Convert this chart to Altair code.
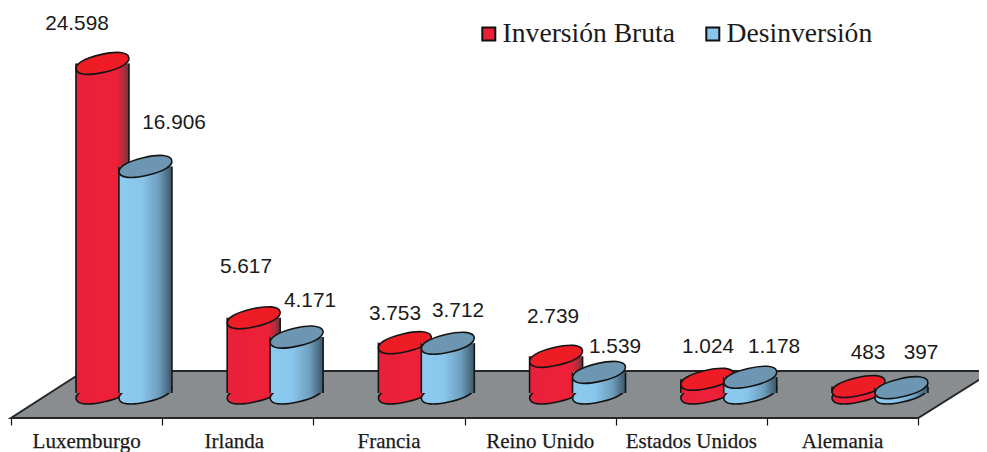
import math
import altair as alt
import pandas as pd

categories = ["Luxemburgo", "Irlanda", "Francia", "Reino Unido", "Estados Unidos", "Alemania"]
inversion_bruta = [24598, 5617, 3753, 2739, 1024, 483]
desinversion = [16906, 4171, 3712, 1539, 1178, 397]
series_names = ["Inversión Bruta", "Desinversión"]
ticks = [0, 1, 2, 3, 4, 5, 6]

# styling: drawing parameters
PX = 151.2                 # px per category
CYL_W = 53
CENTER = {series_names[0]: 0.605, series_names[1]: 0.889}
HALF = 26.5 / PX
LABEL_OFFSETS = {
    series_names[0]: [(-25.5, -33.4), (-7.7, -44.7), (-9.9, -22.7), (-3.1, -33.3), (0.7, -26.3), (9.5, -27.5)],
    series_names[1]: [(28.6, -37.5), (13.4, -30.1), (10.2, -26.3), (16, -19.4), (23.8, -24.2), (19.6, -28.7)],
}
CAT_NUDGE = [0, -3.5, 0, 0, 0, 0]
X_SCALE = alt.Scale(domain=[-0.0198, 6.4020], nice=False, zero=False)
Y_SCALE = alt.Scale(domain=[-1866, 28731], nice=False, zero=False)
X_AXIS = alt.Axis(values=ticks, labels=False, domain=False, grid=False, title=None,
                  tickSize=7, tickColor="#111111", tickWidth=1.2)
INK = "#141414"


def ellipse_path(a=1.02, b=0.34, k=0.62, deg=13):
    c, s = math.cos(math.radians(deg)), math.sin(math.radians(deg))
    rot = lambda x, y: f"{x * c + y * s:.3f},{-x * s + y * c:.3f}"
    return (
        f"M{rot(-a, 0)}"
        f"C{rot(-a, -k * b)} {rot(-k * a, -b)} {rot(0, -b)}"
        f"C{rot(k * a, -b)} {rot(a, -k * b)} {rot(a, 0)}"
        f"C{rot(a, k * b)} {rot(k * a, b)} {rot(0, b)}"
        f"C{rot(-k * a, b)} {rot(-a, k * b)} {rot(-a, 0)}Z"
    )


ELLIPSE = ellipse_path()


def grad(stops):
    return alt.LinearGradient(
        gradient="linear", x1=0, x2=1, y1=0, y2=0,
        stops=[alt.GradientStop(offset=o, color=c) for o, c in stops],
    )


GRADS = {
    series_names[0]: grad([(0, "#e8203a"), (0.76, "#ee2038"), (0.9, "#b42c3c"), (1, "#5e3a40")]),
    series_names[1]: grad([(0, "#8ccaf0"), (0.42, "#8ac6ec"), (0.75, "#6e9ebe"), (1, "#3c5668")]),
}
TOPS = {series_names[0]: "#ee1c24", series_names[1]: "#6c96b2"}

rows = []
for name, vals in zip(series_names, [inversion_bruta, desinversion]):
    for i, (c, v) in enumerate(zip(categories, vals)):
        pos = i + CENTER[name]
        rows.append(dict(cat=c, series=name, value=v, zero=0, pos=pos,
                         left=pos - HALF, right=pos + HALF,
                         label=f"{v:,}".replace(",", "."), idx=i))
df = pd.DataFrame(rows)

X = lambda f: alt.X(f, type="quantitative", scale=X_SCALE, axis=X_AXIS)
Y = lambda f: alt.Y(f, type="quantitative", scale=Y_SCALE, axis=None)

floor = pd.DataFrame({"y": [-1866, 1642], "x": [0, 0.483], "x2": [6, 6.495]})
floor_layer = alt.Chart(floor).mark_area(
    orient="horizontal", fill="#8a8d8f", stroke="#262626", strokeWidth=2
).encode(y=Y("y"), x=X("x"), x2="x2")

layers = [floor_layer]
for name in series_names:
    d = df[df.series == name]
    ch = alt.Chart(d)
    layers += [
        ch.mark_point(shape=ELLIPSE, size=CYL_W ** 2, filled=True, opacity=1,
                      fill=GRADS[name], stroke=INK, strokeWidth=1.6).encode(x=X("pos"), y=Y("zero")),
        ch.mark_rect(fill=GRADS[name]).encode(x=X("left"), x2="right", y=Y("value"), y2="zero"),
        ch.mark_rule(color=INK, strokeWidth=1.6).encode(x=X("left"), y=Y("value"), y2="zero"),
        ch.mark_rule(color=INK, strokeWidth=1.6).encode(x=X("right"), y=Y("value"), y2="zero"),
        ch.mark_point(shape=ELLIPSE, size=CYL_W ** 2, filled=True, opacity=1,
                      fill=TOPS[name], stroke=INK, strokeWidth=1.6).encode(x=X("pos"), y=Y("value")),
    ]
    for (_, r), (dx, dy) in zip(d.iterrows(), LABEL_OFFSETS[name]):
        layers.append(
            alt.Chart(pd.DataFrame([r.to_dict()])).mark_text(
                font="Liberation Sans", fontSize=20.8, color="#1a1a1a",
                baseline="alphabetic", align="center", dx=dx, dy=dy,
            ).encode(x=X("pos"), y=Y("value"), text="label:N")
        )

for i, cat in enumerate(categories):
    layers.append(
        alt.Chart(pd.DataFrame({"cat": [cat], "mid": [i + 0.5]})).mark_text(
            font="Liberation Serif", fontSize=21, color="#1a1a1a", baseline="alphabetic", align="center",
            stroke="#1a1a1a", strokeWidth=0.25, dx=CAT_NUDGE[i],
        ).encode(x=X("mid"), y=alt.value(440), text="cat:N")
    )

legend_layer = alt.Chart(pd.DataFrame({"s": series_names})).mark_point(
    shape="square", filled=True, opacity=0, size=0
).encode(
    x=alt.value(-50), y=alt.value(-50),
    color=alt.Color("s:N", sort=series_names,
                    scale=alt.Scale(domain=series_names, range=["#ee2038", "#8ac6ec"]),
                    legend=alt.Legend(
                        orient="none", legendX=467, legendY=12, direction="horizontal", columns=2,
                        title=None, symbolType="square", symbolSize=169, symbolStrokeColor="#111111",
                        symbolStrokeWidth=2, symbolOpacity=1,
                        labelFont="Liberation Serif", labelFontSize=27.6, labelColor="#1a1a1a",
                        labelLimit=300, columnPadding=23, labelOffset=0,
                    )),
)
layers.append(legend_layer)

chart = alt.layer(*layers).properties(
    width=971, height=410,
    padding={"left": 0, "top": 0, "right": 0, "bottom": 34},
    autosize=alt.AutoSizeParams(type="none", contains="content"),
    background="white",
).configure_view(stroke=None).resolve_scale(x="shared", y="shared")

chart.save("out.html", embed_options={"renderer": "svg", "actions": False})
